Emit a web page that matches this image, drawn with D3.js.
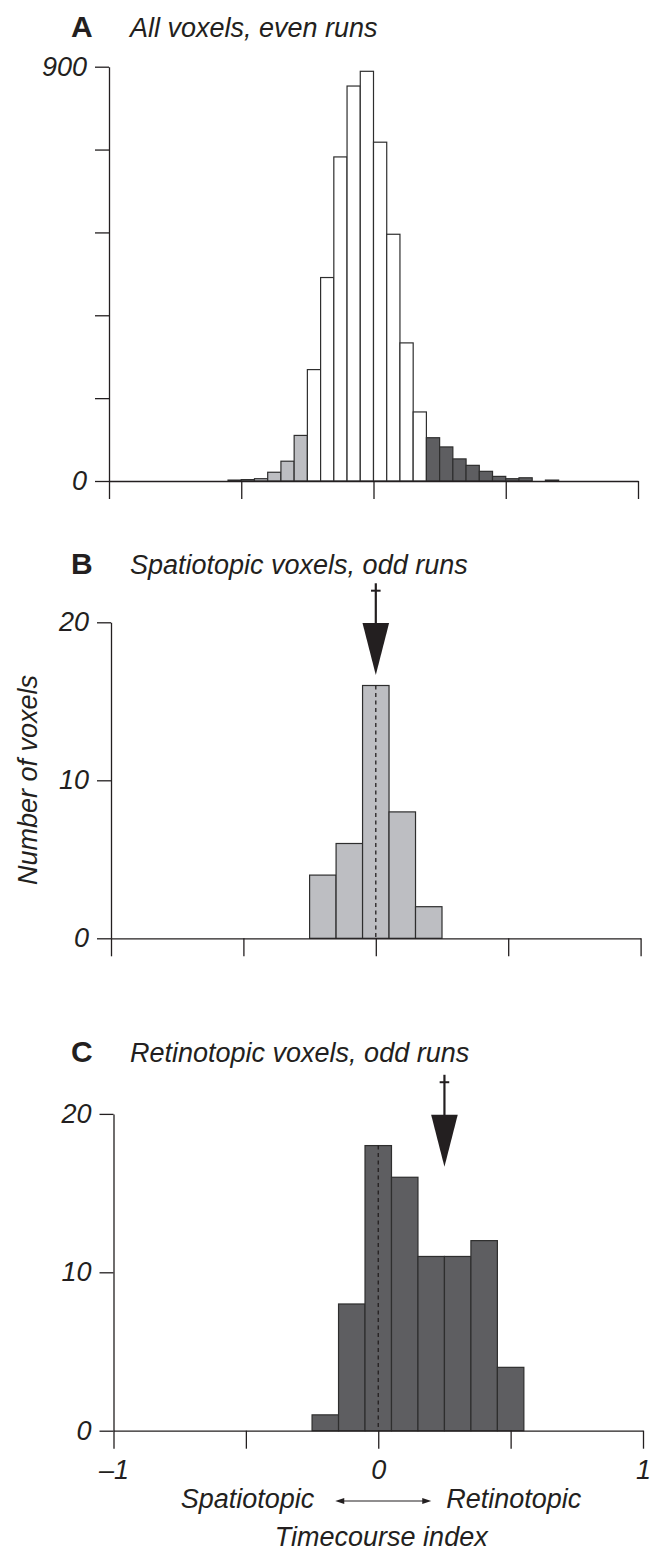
<!DOCTYPE html>
<html><head><meta charset="utf-8">
<script src="https://cdn.jsdelivr.net/npm/d3@7"></script>
<style>body{margin:0;background:#fff}</style>
</head><body><svg id="c" width="653" height="1552"></svg>
<script>
// ---------------- data ----------------
const panelLetters = ["A", "B", "C"];
const panelTitles = ["All voxels, even runs", "Spatiotopic voxels, odd runs", "Retinotopic voxels, odd runs"];
const xTicks = [-1, -0.5, 0, 0.5, 1];
const xTickLabels = ["\u20131", "", "0", "", "1"];

// Panel A: bin left edges (width 0.05), counts, and class of each bin
const aBinStart = [-0.55, -0.50, -0.45, -0.40, -0.35, -0.30, -0.25, -0.20, -0.15, -0.10, -0.05, 0.00, 0.05,
                   0.10, 0.15, 0.20, 0.25, 0.30, 0.35, 0.40, 0.45, 0.50, 0.55, 0.60, 0.65];
const aCounts   = [2, 3, 5, 19, 43, 99, 242, 442, 704, 858, 890, 736, 536,
                   300, 150, 94, 74, 48, 34, 21, 10, 5, 7, 0, 2];
const aClass    = ["spat","spat","spat","spat","spat","spat","mid","mid","mid","mid","mid","mid","mid",
                   "mid","mid","ret","ret","ret","ret","ret","ret","ret","ret","ret","ret"];
const aYTicks = [0, 180, 360, 540, 720, 900];
const aYTickLabels = ["0", "", "", "", "", "900"];

// Panel B: spatiotopic voxels (bin width 0.1)
const bBinStart = [-0.25, -0.15, -0.05, 0.05, 0.15];
const bCounts   = [4, 6, 16, 8, 2];
// Panel C: retinotopic voxels (bin width 0.1)
const cBinStart = [-0.25, -0.15, -0.05, 0.05, 0.15, 0.25, 0.35, 0.45];
const cCounts   = [1, 8, 18, 16, 11, 11, 12, 4];
const bcYTicks = [0, 10, 20];
const bcYTickLabels = ["0", "10", "20"];
// mean markers (arrows)
const arrowMeans = [0.0, 0.25];

const yLabel = "Number of voxels";
const axisWords = ["Spatiotopic", "Retinotopic"];
const xTitle = "Timecourse index";

// ---------------- drawing ----------------
const INK = "#231f20";
const FONT = "'Liberation Sans', Arial, Helvetica, sans-serif";
const fills = { spat: "#bdbec2", mid: "#ffffff", ret: "#5e5e61" };
const svg = d3.select("#c");

function panel(cfg) {
  const g = svg.append("g");
  const x = d3.scaleLinear().domain([-1, 1]).range(cfg.xr);
  const y = d3.scaleLinear().domain([0, cfg.ymax]).range(cfg.yr);

  // bars
  g.selectAll("rect.bar").data(cfg.starts.map((s, i) => ({ s, v: cfg.counts[i], c: cfg.cls[i] })))
    .join("rect").attr("class", "bar")
    .attr("x", d => x(d.s))
    .attr("width", d => x(d.s + cfg.bw) - x(d.s))
    .attr("y", d => y(d.v))
    .attr("height", d => y(0) - y(d.v))
    .attr("fill", d => fills[d.c])
    .attr("stroke", "#2e2e2e").attr("stroke-width", 1.2);

  // dashed zero line
  if (cfg.dash) {
    const zi = cfg.starts.findIndex(s => s < 0 && s + cfg.bw > 0);
    g.append("line").attr("x1", x(0)).attr("x2", x(0))
      .attr("y1", y(cfg.counts[zi])).attr("y2", y(0))
      .attr("stroke", INK).attr("stroke-width", 1.3).attr("stroke-dasharray", "4,3.5");
  }

  // y axis
  const ya = g.append("g").attr("transform", `translate(${cfg.xr[0]},0)`)
    .call(d3.axisLeft(y).tickValues(cfg.yTicks).tickFormat((d, i) => cfg.yLabels[i])
      .tickSize(14).tickPadding(8).tickSizeOuter(0));
  // x axis
  const xa = g.append("g").attr("transform", `translate(0,${cfg.yr[0]})`)
    .call(d3.axisBottom(x).tickValues(xTicks).tickFormat((d, i) => cfg.xLabels ? xTickLabels[i] : "")
      .tickSize(18).tickPadding(11).tickSizeOuter(0));
  [ya, xa].forEach(a => {
    a.selectAll("path,line").attr("stroke", INK).attr("stroke-width", 1.3);
    a.selectAll("text").attr("fill", INK).attr("font-family", FONT)
      .attr("font-size", 27).attr("font-style", "italic");
  });

  // letter + title
  svg.append("text").attr("x", 71).attr("y", cfg.titleY).text(cfg.letter)
    .attr("font-family", FONT).attr("font-weight", "bold").attr("font-size", 30).attr("fill", INK);
  svg.append("text").attr("x", 130).attr("y", cfg.titleY).text(cfg.title)
    .attr("font-family", FONT).attr("font-style", "italic").attr("font-size", 27).attr("fill", INK);

  // arrow marking the mean
  if (cfg.mean !== undefined) {
    const ax = x(cfg.mean);
    const ag = g.append("g");
    ag.append("line").attr("x1", ax).attr("x2", ax).attr("y1", y(22.47)).attr("y2", y(19.9))
      .attr("stroke", INK).attr("stroke-width", 2.2);
    ag.append("line").attr("x1", ax - 4.8).attr("x2", ax + 4.8).attr("y1", y(22.0)).attr("y2", y(22.0))
      .attr("stroke", INK).attr("stroke-width", 2);
    ag.append("path").attr("d", `M${ax - 13.3},${y(19.95)}L${ax + 13.3},${y(19.95)}L${ax},${y(16.66)}Z`)
      .attr("fill", INK);
  }
  return { x, y };
}

panel({ letter: panelLetters[0], title: panelTitles[0], titleY: 37,
  xr: [109, 638], yr: [481, 66.7], ymax: 900, bw: 0.05,
  starts: aBinStart, counts: aCounts, cls: aClass,
  yTicks: aYTicks, yLabels: aYTickLabels, xLabels: false });

panel({ letter: panelLetters[1], title: panelTitles[1], titleY: 574,
  xr: [111, 640.6], yr: [938.3, 622.3], ymax: 20, bw: 0.1,
  starts: bBinStart, counts: bCounts, cls: bCounts.map(() => "spat"),
  yTicks: bcYTicks, yLabels: bcYTickLabels, xLabels: false, dash: true, mean: arrowMeans[0] });

const pc = panel({ letter: panelLetters[2], title: panelTitles[2], titleY: 1062,
  xr: [113.5, 643], yr: [1430.7, 1113.9], ymax: 20, bw: 0.1,
  starts: cBinStart, counts: cCounts, cls: cCounts.map(() => "ret"),
  yTicks: bcYTicks, yLabels: bcYTickLabels, xLabels: true, dash: true, mean: arrowMeans[1] });

// y-axis title
svg.append("text").attr("transform", "translate(37,780) rotate(-90)")
  .attr("text-anchor", "middle").text(yLabel)
  .attr("font-family", FONT).attr("font-style", "italic").attr("font-size", 27).attr("fill", INK);

// x-axis words + double arrow
const x0 = pc.x(0);
svg.append("text").attr("x", x0 - 64).attr("y", 1508).attr("text-anchor", "end").text(axisWords[0])
  .attr("font-family", FONT).attr("font-style", "italic").attr("font-size", 27).attr("fill", INK);
svg.append("text").attr("x", x0 + 68).attr("y", 1508).attr("text-anchor", "start").text(axisWords[1])
  .attr("font-family", FONT).attr("font-style", "italic").attr("font-size", 27).attr("fill", INK);
const ay = 1501, al = x0 - 43, ar = x0 + 53;
svg.append("line").attr("x1", al + 6).attr("x2", ar - 6).attr("y1", ay).attr("y2", ay)
  .attr("stroke", INK).attr("stroke-width", 1.2);
svg.append("path").attr("d", `M${al},${ay}L${al + 9},${ay - 3}L${al + 9},${ay + 3}Z`).attr("fill", INK);
svg.append("path").attr("d", `M${ar},${ay}L${ar - 9},${ay - 3}L${ar - 9},${ay + 3}Z`).attr("fill", INK);
svg.append("text").attr("x", x0 + 3).attr("y", 1546).attr("text-anchor", "middle").text(xTitle)
  .attr("font-family", FONT).attr("font-style", "italic").attr("font-size", 27).attr("fill", INK);
</script>
</body></html>
